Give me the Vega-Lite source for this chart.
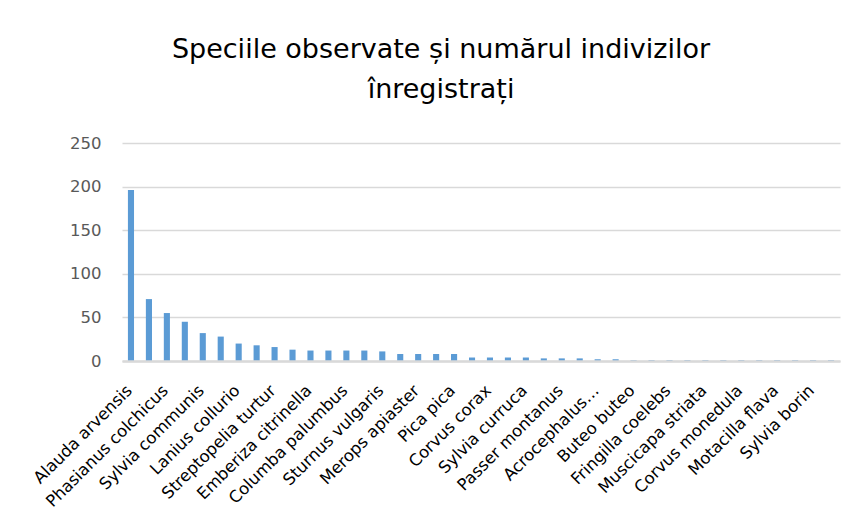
{
  "$schema": "https://vega.github.io/schema/vega-lite/v6.json",
  "width": 718,
  "height": 218,
  "autosize": {"type": "none"},
  "padding": {"left": 122, "top": 143, "right": 23, "bottom": 165},
  "background": "white",
  "title": {
    "text": ["Speciile observate și numărul indivizilor", "înregistrați"],
    "font": "DejaVu Sans",
    "fontSize": 27,
    "fontWeight": "normal",
    "color": "#000000",
    "lineHeight": 40,
    "anchor": "middle",
    "dx": -40,
    "offset": 31
  },
  "config": {
    "view": {"stroke": null},
    "font": "DejaVu Sans"
  },
  "data": {
    "values": [
      {"specie": "Alauda arvensis", "n": 196},
      {"specie": "Perdix perdix", "n": 71},
      {"specie": "Phasianus colchicus", "n": 55},
      {"specie": "Hirundo rustica", "n": 45},
      {"specie": "Sylvia communis", "n": 32},
      {"specie": "Coturnix coturnix", "n": 28},
      {"specie": "Lanius collurio", "n": 20},
      {"specie": "Oriolus oriolus", "n": 18},
      {"specie": "Streptopelia turtur", "n": 16},
      {"specie": "Carduelis carduelis", "n": 13},
      {"specie": "Emberiza citrinella", "n": 12},
      {"specie": "Upupa epops", "n": 12},
      {"specie": "Columba palumbus", "n": 12},
      {"specie": "Cuculus canorus", "n": 12},
      {"specie": "Sturnus vulgaris", "n": 11},
      {"specie": "Garrulus glandarius", "n": 8},
      {"specie": "Merops apiaster", "n": 8},
      {"specie": "Parus major", "n": 8},
      {"specie": "Pica pica", "n": 8},
      {"specie": "Emberiza calandra", "n": 4},
      {"specie": "Corvus corax", "n": 4},
      {"specie": "Falco tinnunculus", "n": 4},
      {"specie": "Sylvia curruca", "n": 4},
      {"specie": "Turdus merula", "n": 3},
      {"specie": "Passer montanus", "n": 3},
      {"specie": "Dendrocopos major", "n": 3},
      {"specie": "Acrocephalus arundinaceus", "n": 2},
      {"specie": "Lanius minor", "n": 2},
      {"specie": "Buteo buteo", "n": 1},
      {"specie": "Coracias garrulus", "n": 1},
      {"specie": "Fringilla coelebs", "n": 1},
      {"specie": "Chloris chloris", "n": 1},
      {"specie": "Muscicapa striata", "n": 1},
      {"specie": "Erithacus rubecula", "n": 1},
      {"specie": "Corvus monedula", "n": 1},
      {"specie": "Luscinia megarhynchos", "n": 1},
      {"specie": "Motacilla flava", "n": 1},
      {"specie": "Saxicola rubetra", "n": 1},
      {"specie": "Sylvia borin", "n": 1},
      {"specie": "Circus aeruginosus", "n": 1}
    ]
  },
  "mark": {"type": "bar", "color": "#5B9BD5"},
  "encoding": {
    "x": {
      "field": "specie",
      "type": "nominal",
      "sort": null,
      "scale": {"paddingInner": 0.66, "paddingOuter": 0.33},
      "axis": {
        "title": null,
        "values": ["Alauda arvensis", "Phasianus colchicus", "Sylvia communis", "Lanius collurio", "Streptopelia turtur", "Emberiza citrinella", "Columba palumbus", "Sturnus vulgaris", "Merops apiaster", "Pica pica", "Corvus corax", "Sylvia curruca", "Passer montanus", "Acrocephalus arundinaceus", "Buteo buteo", "Fringilla coelebs", "Muscicapa striata", "Corvus monedula", "Motacilla flava", "Sylvia borin"],
        "labelExpr": "length(datum.label) > 20 ? slice(datum.label, 0, 12) + '…' : datum.label",
        "labelAngle": -45,
        "labelAlign": "right",
        "labelBaseline": "top",
        "labelPadding": 21,
        "labelOffset": -7,
        "labelFont": "DejaVu Sans",
        "labelFontSize": 16.5,
        "labelColor": "#000000",
        "labelLimit": 300,
        "labelOverlap": false,
        "ticks": false,
        "domain": true,
        "domainColor": "#d9d9d9",
        "domainWidth": 2.6,
        "zindex": 1,
        "grid": false
      }
    },
    "y": {
      "field": "n",
      "type": "quantitative",
      "scale": {"domain": [0, 250]},
      "axis": {
        "title": null,
        "values": [0, 50, 100, 150, 200, 250],
        "domain": false,
        "ticks": false,
        "grid": true,
        "gridColor": "#d9d9d9",
        "gridWidth": 1.3,
        "labelFont": "DejaVu Sans",
        "labelFontSize": 16.5,
        "labelColor": "#595959",
        "labelPadding": 21
      }
    }
  }
}
